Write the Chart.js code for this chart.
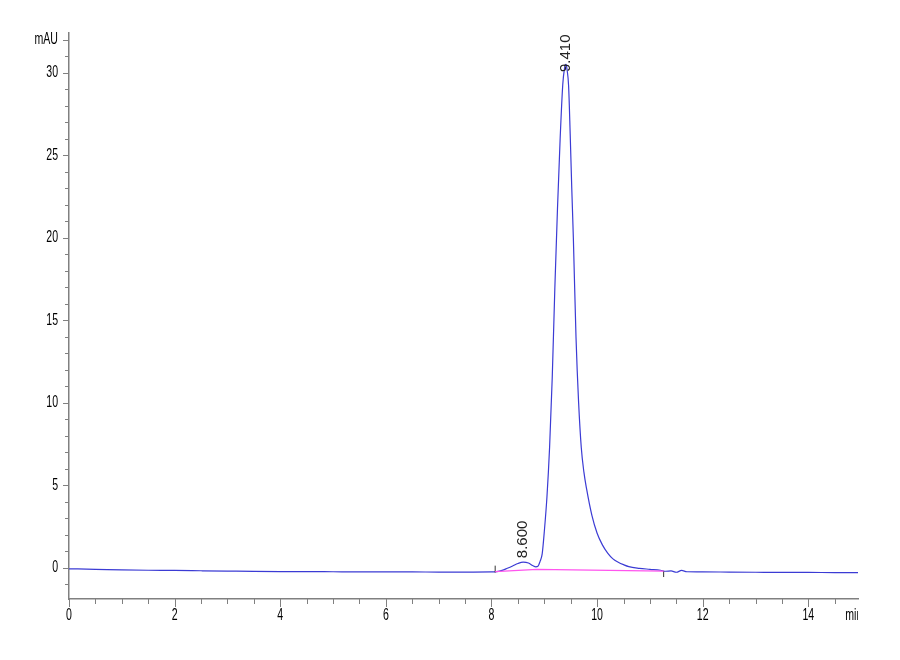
<!DOCTYPE html>
<html>
<head>
<meta charset="utf-8">
<title>Chromatogram</title>
<script src="https://cdn.jsdelivr.net/npm/chart.js@4.4.1/dist/chart.umd.min.js"></script>
<style>
  html, body { margin: 0; padding: 0; background: #fff; }
  #wrap { width: 900px; height: 660px; }
</style>
</head>
<body>
<div id="wrap"><canvas id="chart" width="900" height="660"></canvas></div>
<script>
// retention time (min) and detector signal (mAU)
const times = [
  0, 0.5, 1, 1.5, 2, 2.5, 3, 3.5, 4, 4.5, 5, 5.5, 6, 6.5, 7, 7.5, 8.0,
  8.1, 8.2, 8.3, 8.4, 8.5, 8.6, 8.7, 8.78, 8.84, 8.88, 8.92, 8.96, 9.0,
  9.05, 9.1, 9.15, 9.2, 9.25, 9.3, 9.35, 9.38, 9.41, 9.43, 9.46, 9.49,
  9.52, 9.55, 9.6, 9.65, 9.7, 9.75, 9.8, 9.9, 10.0, 10.1, 10.2, 10.3,
  10.4, 10.5, 10.6, 10.8, 11.0, 11.2, 11.3, 11.4, 11.5, 11.6, 11.7,
  12, 12.5, 13, 13.5, 14, 14.5, 14.94
];
const signal = [
  -0.05, -0.08, -0.12, -0.14, -0.15, -0.17, -0.19, -0.21, -0.22, -0.22, -0.23, -0.24, -0.24, -0.24, -0.25, -0.25, -0.24,
  -0.22, -0.15, -0.02, 0.12, 0.27, 0.35, 0.30, 0.15, 0.07, 0.10, 0.40, 0.85, 2.2,
  4.3, 7.3, 11.5, 17.0, 21.8, 26.0, 29.3, 30.2, 30.5, 30.2, 29.2, 26.3,
  23.0, 20.0, 14.0, 10.0, 7.3, 5.8, 4.8, 3.2, 2.1, 1.4, 0.9, 0.55,
  0.35, 0.2, 0.08, -0.02, -0.08, -0.14, -0.2, -0.18, -0.26, -0.15, -0.23,
  -0.24, -0.25, -0.26, -0.27, -0.27, -0.28, -0.28
];

// integration baseline drawn under the peaks
const baseTimes = [8.07, 8.86, 11.26];
const baseValues = [-0.22, -0.08, -0.19];

// peak start / end markers
const markTimes = [8.07, 11.26];
const markLow = [-0.28, -0.55];
const markHigh = [0.14, -0.18];

// labelled peaks
const peakTimes = [8.600, 9.410];
const peakHeights = [0.35, 30.5];
const peakLabels = ['8.600', '9.410'];

// axis ticks
const xTicks = [0, 2, 4, 6, 8, 10, 12, 14];
const yTicks = [0, 5, 10, 15, 20, 25, 30, 32];

const AXIS_GREY = '#808080';
const LABEL_FONT = '16px "Liberation Sans", Arial, sans-serif';
const NARROW = 0.66; // tick labels are a condensed face

// draws a narrow (horizontally squeezed) text run
function narrowText(ctx, text, px, py, align) {
  const w = ctx.measureText(text).width * NARROW;
  let left = px;
  if (align === 'center') left = px - w / 2;
  else if (align === 'right') left = px - w;
  ctx.save();
  ctx.translate(left, py);
  ctx.scale(NARROW, 1);
  ctx.fillText(text, 0, 0);
  ctx.restore();
}

const axisMarks = {
  id: 'axisMarks',
  afterDraw(chart) {
    const { ctx, chartArea, scales: { x, y } } = chart;
    ctx.save();
    ctx.strokeStyle = AXIS_GREY;
    ctx.lineWidth = 1;

    // x ticks: major every 2 min, minor every 0.5 min
    for (let v = 0; v <= x.max + 1e-9; v += 0.5) {
      const px = Math.round(x.getPixelForValue(v)) + 0.5;
      const len = xTicks.includes(v) ? 8 : 5;
      ctx.beginPath();
      ctx.moveTo(px, chartArea.bottom);
      ctx.lineTo(px, chartArea.bottom + len);
      ctx.stroke();
    }

    // y ticks: major every 5 mAU, minor every 1
    for (let v = Math.ceil(y.min); v <= y.max; v += 1) {
      const py = Math.round(y.getPixelForValue(v)) + 0.5;
      const len = yTicks.includes(v) ? 6 : 4;
      ctx.beginPath();
      ctx.moveTo(chartArea.left, py);
      ctx.lineTo(chartArea.left - len, py);
      ctx.stroke();
    }

    // tick labels
    ctx.fillStyle = '#000';
    ctx.font = LABEL_FONT;
    ctx.textAlign = 'left';
    ctx.textBaseline = 'top';
    xTicks.forEach(v => {
      narrowText(ctx, String(v), x.getPixelForValue(v), chartArea.bottom + 9, 'center');
    });
    ctx.textBaseline = 'middle';
    yTicks.forEach(v => {
      const label = v === 32 ? 'mAU' : String(v);
      narrowText(ctx, label, chartArea.left - 11, y.getPixelForValue(v), 'right');
    });

    // unit label at the end of the time axis, cut off at the axis end
    ctx.save();
    ctx.beginPath();
    ctx.rect(0, 0, chartArea.right, chart.height);
    ctx.clip();
    ctx.textBaseline = 'top';
    narrowText(ctx, 'min', x.getPixelForValue(14.7), chartArea.bottom + 9, 'left');
    ctx.restore();

    // retention time labels, rotated, above each apex
    ctx.fillStyle = '#222';
    ctx.font = '15px "Liberation Sans", Arial, sans-serif';
    ctx.textAlign = 'left';
    ctx.textBaseline = 'middle';
    peakTimes.forEach((t, i) => {
      const px = x.getPixelForValue(t);
      const top = y.getPixelForValue(peakHeights[i]) - 4;
      const start = Math.max(top, chartArea.top + 39);
      ctx.save();
      ctx.translate(px, start);
      ctx.rotate(-Math.PI / 2);
      ctx.fillText(peakLabels[i], 0, 0);
      ctx.restore();
    });
    ctx.restore();
  }
};

const markerSets = markTimes.map((t, i) => ({
  data: [{ x: t, y: markLow[i] }, { x: t, y: markHigh[i] }],
  borderColor: '#333',
  borderWidth: 1,
  pointRadius: 0,
  showLine: true
}));

new Chart(document.getElementById('chart'), {
  type: 'scatter',
  data: {
    datasets: [
      {
        data: baseTimes.map((t, i) => ({ x: t, y: baseValues[i] })),
        borderColor: '#ff55ee',
        borderWidth: 1.3,
        pointRadius: 0,
        showLine: true
      },
      ...markerSets,
      {
        data: times.map((t, i) => ({ x: t, y: signal[i] })),
        borderColor: '#3b3bd4',
        borderWidth: 1.2,
        pointRadius: 0,
        showLine: true,
        cubicInterpolationMode: 'monotone'
      }
    ]
  },
  options: {
    responsive: false,
    animation: false,
    layout: { padding: { top: 33, right: 42, left: 0, bottom: 0 } },
    plugins: {
      legend: { display: false },
      tooltip: { enabled: false }
    },
    scales: {
      x: {
        type: 'linear',
        min: 0,
        max: 14.94,
        grid: { display: false, drawTicks: false },
        border: { display: true, color: AXIS_GREY, width: 1.5 },
        afterBuildTicks: (scale) => { scale.ticks = xTicks.map(v => ({ value: v })); },
        afterFit: (scale) => { scale.height = 61; },
        ticks: { display: false }
      },
      y: {
        type: 'linear',
        min: -1.88,
        max: 32.4,
        grid: { display: false, drawTicks: false },
        border: { display: true, color: AXIS_GREY, width: 1.5 },
        afterBuildTicks: (scale) => { scale.ticks = yTicks.map(v => ({ value: v })); },
        afterFit: (scale) => { scale.width = 69; },
        ticks: { display: false }
      }
    }
  },
  plugins: [axisMarks]
});
</script>
</body>
</html>
